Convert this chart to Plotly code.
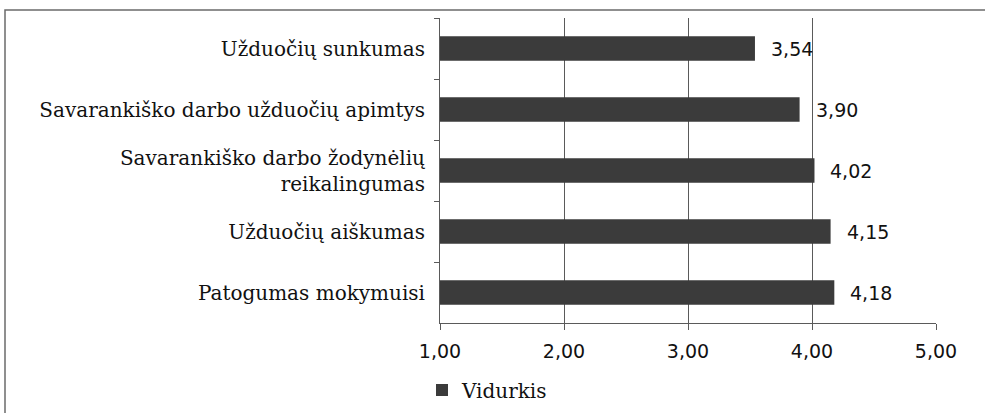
import plotly.graph_objects as go

categories = [
    "Užduočių sunkumas",
    "Savarankiško darbo užduočių apimtys",
    "Savarankiško darbo žodynėlių<br>reikalingumas",
    "Užduočių aiškumas",
    "Patogumas mokymuisi",
]
values = [3.54, 3.90, 4.02, 4.15, 4.18]
series_name = "Vidurkis"
tick_vals = [1, 2, 3, 4, 5]
tick_text = ["1,00", "2,00", "3,00", "4,00", "5,00"]

W, H = 985, 413
L, R, T, B = 440, 49, 18, 90
pw, ph = W - L - R, H - T - B

def fmt(v):
    return f"{v:.2f}".replace(".", ",")

fig = go.Figure()
fig.add_trace(go.Bar(
    y=categories, x=values, orientation="h", name=series_name,
    marker=dict(color="#3b3b3b", line=dict(width=0)),
    showlegend=True,
))

for c, v in zip(categories, values):
    fig.add_annotation(x=v, y=c, text=fmt(v), showarrow=False,
                       xanchor="left", xshift=14,
                       font=dict(family="DejaVu Sans", size=19, color="#111"))

grid = "#5a5a5a"
fig.update_xaxes(range=[1, 5], tickvals=tick_vals, ticktext=tick_text,
                 showgrid=True, gridcolor=grid, gridwidth=1,
                 showline=True, linecolor=grid, linewidth=1,
                 ticks="outside", ticklen=6, tickcolor=grid,
                 ticklabelstandoff=5,
                 tickfont=dict(family="DejaVu Sans", size=19, color="#111"),
                 zeroline=False, fixedrange=True, automargin=False)
fig.update_yaxes(autorange="reversed", tickson="boundaries",
                 showgrid=False, showline=True, linecolor=grid, linewidth=1,
                 ticks="outside", ticklen=5, tickcolor=grid,
                 ticklabelstandoff=10,
                 tickfont=dict(family="DejaVu Serif", size=20, color="#111"),
                 automargin=False, fixedrange=True)

# outer frame
fig.add_shape(type="rect", xref="paper", yref="paper",
              x0=(5 - L) / pw, x1=(W + 20 - L) / pw,
              y0=(T + ph - (H + 20)) / ph, y1=1 + (T - 10) / ph,
              line=dict(color="#6b6b6b", width=1.5), layer="below")

fig.update_layout(
    width=W, height=H,
    margin=dict(l=L, r=R, t=T, b=B, pad=0),
    bargap=0.6,
    plot_bgcolor="white", paper_bgcolor="white",
    showlegend=True,
    legend=dict(xref="container", yref="container",
                x=422 / W, xanchor="left", y=1 - 390 / H, yanchor="middle",
                orientation="h", itemwidth=30,
                font=dict(family="DejaVu Serif", size=20, color="#111"),
                bgcolor="rgba(0,0,0,0)"),
)

fig.write_html("out.html", config={"displayModeBar": False},
               post_script="document.body.style.margin='0';document.body.style.overflow='hidden';")
